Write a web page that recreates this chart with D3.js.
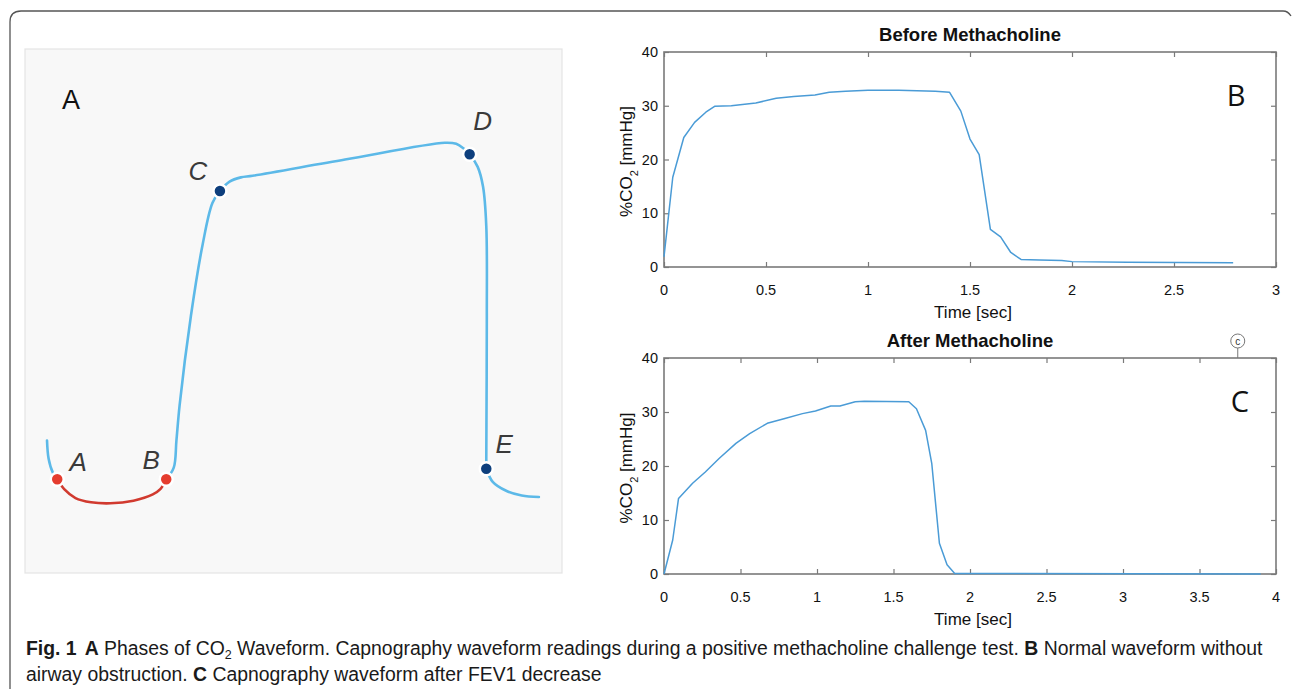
<!DOCTYPE html>
<html>
<head>
<meta charset="utf-8">
<script src="https://cdn.jsdelivr.net/npm/d3@7"></script>
<style>
  body { margin: 0; background: #fff; }
  svg { display: block; }
  .tick-lbl { font-family: "Liberation Sans Narrow", "Liberation Sans", sans-serif; font-size: 14.5px; fill: #111; }
</style>
</head>
<body>
<svg id="fig" width="1293" height="689"></svg>
<script>
// ---- data ----
// panel B, before methacholine
const beforeTime = [0, 0.043, 0.097, 0.15, 0.205, 0.248, 0.33, 0.45, 0.55, 0.636, 0.74, 0.81, 0.89, 1.0, 1.15, 1.33, 1.40, 1.455, 1.50, 1.545, 1.60, 1.65, 1.70, 1.75, 1.84, 1.95, 2.0, 2.27, 2.79];
const beforeCO2  = [1.9, 16.7, 24.1, 26.9, 28.8, 29.9, 30.0, 30.5, 31.4, 31.7, 32.0, 32.5, 32.7, 32.9, 32.9, 32.7, 32.5, 29.0, 23.8, 20.9, 7.0, 5.6, 2.7, 1.4, 1.3, 1.2, 1.0, 0.9, 0.8];
// panel C, after methacholine
const afterTime = [0, 0.057, 0.095, 0.187, 0.27, 0.36, 0.47, 0.56, 0.675, 0.79, 0.905, 0.99, 1.09, 1.15, 1.25, 1.31, 1.6, 1.65, 1.71, 1.75, 1.80, 1.85, 1.90, 3.9];
const afterCO2  = [0, 6.3, 14.0, 16.8, 18.9, 21.4, 24.2, 26.0, 27.9, 28.8, 29.7, 30.2, 31.1, 31.1, 31.9, 32.0, 31.9, 30.6, 26.6, 20.5, 5.7, 1.7, 0.1, 0];

const yTicks = [0, 10, 20, 30, 40];
const xTicksB = [0, 0.5, 1, 1.5, 2, 2.5, 3];
const xTicksC = [0, 0.5, 1, 1.5, 2, 2.5, 3, 3.5, 4];

// panel A, schematic waveform (0-100 units across the box)
const tailX = [4.1, 4.4, 5.2, 6.0];
const tailY = [25.3, 21.8, 19.1, 17.9];
const baseX = [6.0, 7.3, 9.4, 12.3, 15.9, 20.2, 23.8, 25.2, 26.3];
const baseY = [17.9, 16.0, 14.3, 13.5, 13.3, 13.8, 15.0, 16.0, 17.9];
const riseX = [26.3, 27.7, 28.2, 28.8, 30.9, 33.1, 34.9, 36.3, 38.1, 40.2, 42.4, 59.6, 78.2, 80.3, 81.7, 82.8, 84.3, 85.3, 85.9, 86.0, 85.9, 85.9];
const riseY = [17.9, 20.1, 25.3, 32.1, 49.1, 62.8, 70.6, 72.9, 74.7, 75.5, 75.8, 78.9, 82.1, 81.9, 81.0, 79.9, 77.5, 73.7, 66.2, 49.1, 21.8, 19.9];
const endX = [85.9, 87.1, 89.6, 92.5, 95.7];
const endY = [19.9, 17.4, 15.7, 14.8, 14.5];
const phaseNames = ["A", "B", "C", "D", "E"];
const phaseX = [6.0, 26.3, 36.3, 82.8, 85.9];
const phaseY = [17.9, 17.9, 72.9, 79.9, 19.9];

const svg = d3.select("#fig");

// outer frame of the figure
svg.append("path")
  .attr("d", "M10,689 L10,22 Q10,11 21,11 L1283,11 Q1288,11 1291,16")
  .attr("fill", "none").attr("stroke", "#555").attr("stroke-width", 1.3);

// ---------- panel A ----------
const boxA = {left: 25, right: 562, top: 49, bottom: 573};
svg.append("rect")
  .attr("x", boxA.left).attr("y", boxA.top)
  .attr("width", boxA.right - boxA.left).attr("height", boxA.bottom - boxA.top)
  .attr("fill", "#f8f8f8").attr("stroke", "#e4e4e4").attr("stroke-width", 1.2);

const ax = d3.scaleLinear().domain([0, 100]).range([boxA.left, boxA.right]);
const ay = d3.scaleLinear().domain([0, 100]).range([boxA.bottom, boxA.top]);
const lineA = d3.line().x(d => ax(d[0])).y(d => ay(d[1])).curve(d3.curveCatmullRom.alpha(0.5));

function seg(xs, ys, color) {
  svg.append("path")
    .attr("d", lineA(d3.zip(xs, ys)))
    .attr("fill", "none").attr("stroke", color)
    .attr("stroke-width", 2.6).attr("stroke-linecap", "round");
}
seg(tailX, tailY, "#5cb9e8");
seg(baseX, baseY, "#d13a2f");
seg(riseX, riseY, "#5cb9e8");
seg(endX, endY, "#5cb9e8");

svg.append("g").selectAll("circle")
  .data(phaseNames)
  .join("circle")
  .attr("cx", (d, i) => ax(phaseX[i]))
  .attr("cy", (d, i) => ay(phaseY[i]))
  .attr("r", 6.5)
  .attr("fill", (d, i) => i < 2 ? "#e53d2f" : "#0e3f7d")
  .attr("stroke", "#fff").attr("stroke-width", 2.5);

// phase labels, offset from their dots
const lblOff = [[21, -8], [-15, -10], [-22, -11], [13, -24], [18, -16]];
svg.append("g").selectAll("text")
  .data(phaseNames)
  .join("text")
  .attr("x", (d, i) => ax(phaseX[i]) + lblOff[i][0])
  .attr("y", (d, i) => ay(phaseY[i]) + lblOff[i][1])
  .attr("text-anchor", "middle")
  .attr("font-family", "Liberation Sans Narrow, Liberation Sans, sans-serif")
  .attr("font-style", "italic")
  .attr("font-size", 26)
  .attr("fill", "#3a3a3a")
  .text(d => d);

svg.append("text")
  .attr("x", 62).attr("y", 109)
  .attr("font-family", "Liberation Sans, Arial, sans-serif")
  .attr("font-size", 27).attr("fill", "#111")
  .text("A");

// ---------- panels B and C ----------
function drawPlot(cfg) {
  const x = d3.scaleLinear().domain(cfg.xDomain).range([cfg.left, cfg.right]);
  const y = d3.scaleLinear().domain([0, 40]).range([cfg.bottom, cfg.top]);
  const g = svg.append("g");
  const tl = 5;

  // inward ticks on all four sides (MATLAB box)
  g.append("g").attr("transform", `translate(0,${cfg.bottom})`)
    .call(d3.axisBottom(x).tickValues(cfg.xTicks).tickSize(-tl).tickFormat(""))
    .call(a => a.select(".domain").remove());
  g.append("g").attr("transform", `translate(0,${cfg.top})`)
    .call(d3.axisTop(x).tickValues(cfg.xTicks).tickSize(-tl).tickFormat(""))
    .call(a => a.select(".domain").remove());
  g.append("g").attr("transform", `translate(${cfg.left},0)`)
    .call(d3.axisLeft(y).tickValues(yTicks).tickSize(-tl).tickFormat(""))
    .call(a => a.select(".domain").remove());
  g.append("g").attr("transform", `translate(${cfg.right},0)`)
    .call(d3.axisRight(y).tickValues(yTicks).tickSize(-tl).tickFormat(""))
    .call(a => a.select(".domain").remove());
  g.selectAll(".tick line").attr("stroke", "#7a7a7a").attr("stroke-width", 1.2);

  g.append("rect")
    .attr("x", cfg.left).attr("y", cfg.top)
    .attr("width", cfg.right - cfg.left).attr("height", cfg.bottom - cfg.top)
    .attr("fill", "none").attr("stroke", "#7a7a7a").attr("stroke-width", 1.6);

  // tick labels
  g.append("g").selectAll("text").data(cfg.xTicks).join("text")
    .attr("class", "tick-lbl")
    .attr("x", d => x(d)).attr("y", cfg.bottom + 28)
    .attr("text-anchor", "middle")
    .text(d => d3.format("")(d));
  g.append("g").selectAll("text").data(yTicks).join("text")
    .attr("class", "tick-lbl")
    .attr("x", cfg.left - 6).attr("y", d => y(d) + 5)
    .attr("text-anchor", "end")
    .text(d => d);

  // data line
  g.append("path")
    .datum(d3.zip(cfg.t, cfg.v))
    .attr("d", d3.line().x(d => x(d[0])).y(d => y(d[1])))
    .attr("fill", "none").attr("stroke", "#4a9bd6").attr("stroke-width", 1.5)
    .attr("stroke-linejoin", "round");

  // title
  g.append("text")
    .attr("x", (cfg.left + cfg.right) / 2 + 0).attr("y", cfg.top - 11)
    .attr("text-anchor", "middle")
    .attr("font-family", "Liberation Sans Narrow, Liberation Sans, sans-serif")
    .attr("font-weight", "bold").attr("font-size", 18.5).attr("fill", "#111")
    .text(cfg.title);

  // axis titles
  g.append("text")
    .attr("x", (cfg.left + cfg.right) / 2 + 3).attr("y", cfg.bottom + 51)
    .attr("text-anchor", "middle")
    .attr("font-family", "Liberation Sans Narrow, Liberation Sans, sans-serif")
    .attr("font-size", 17).attr("fill", "#111")
    .text("Time [sec]");

  const yl = g.append("text")
    .attr("transform", `translate(${cfg.left - 32},${(cfg.top + cfg.bottom) / 2 + 2}) rotate(-90)`)
    .attr("text-anchor", "middle")
    .attr("font-family", "Liberation Sans, Arial, sans-serif")
    .attr("font-size", 17).attr("fill", "#111");
  yl.append("tspan").text("%CO");
  yl.append("tspan").attr("font-size", 11).attr("dy", 6).text("2");
  yl.append("tspan").attr("dy", -6).text(" [mmHg]");

  // panel letter
  g.append("text")
    .attr("x", cfg.letterX).attr("y", cfg.top + 54)
    .attr("text-anchor", "middle")
    .attr("font-family", "Open Sans, Liberation Sans, sans-serif")
    .attr("font-size", 29).attr("fill", "#111")
    .text(cfg.letter);

  return x;
}

drawPlot({
  left: 664, right: 1276, top: 52, bottom: 267,
  xDomain: [0, 3], xTicks: xTicksB, t: beforeTime, v: beforeCO2,
  title: "Before Methacholine", letter: "B", letterX: 1236
});
const xC = drawPlot({
  left: 664, right: 1276, top: 358, bottom: 574,
  xDomain: [0, 4], xTicks: xTicksC, t: afterTime, v: afterCO2,
  title: "After Methacholine", letter: "C", letterX: 1240
});

// small marker above panel C
const mk = svg.append("g").attr("transform", `translate(${xC(3.75)},0)`);
mk.append("line").attr("x1", 0).attr("x2", 0).attr("y1", 348).attr("y2", 358)
  .attr("stroke", "#777").attr("stroke-width", 1);
mk.append("circle").attr("cx", 0).attr("cy", 341).attr("r", 7)
  .attr("fill", "#fff").attr("stroke", "#777").attr("stroke-width", 1);
mk.append("text").attr("x", 0).attr("y", 345).attr("text-anchor", "middle")
  .attr("font-family", "Liberation Sans, sans-serif").attr("font-size", 10).attr("fill", "#333")
  .text("c");

// ---------- caption ----------
const capFont = "Liberation Sans Narrow, Liberation Sans, sans-serif";
const cap1 = svg.append("text").attr("x", 26).attr("y", 655)
  .attr("font-family", capFont).attr("font-size", 19.4).attr("fill", "#1a1a1a");
cap1.append("tspan").attr("font-weight", "bold").text("Fig. 1");
cap1.append("tspan").attr("font-weight", "bold").attr("dx", 8).text("A");
cap1.append("tspan").text(" Phases of CO");
cap1.append("tspan").attr("font-size", 12.5).attr("dy", 4).text("2");
cap1.append("tspan").attr("dy", -4).text(" Waveform. Capnography waveform readings during a positive methacholine challenge test. ");
cap1.append("tspan").attr("font-weight", "bold").text("B");
cap1.append("tspan").text(" Normal waveform without");

const cap2 = svg.append("text").attr("x", 26).attr("y", 681)
  .attr("font-family", capFont).attr("font-size", 19.4).attr("fill", "#1a1a1a");
cap2.append("tspan").text("airway obstruction. ");
cap2.append("tspan").attr("font-weight", "bold").text("C");
cap2.append("tspan").text(" Capnography waveform after FEV1 decrease");
</script>
</body>
</html>
